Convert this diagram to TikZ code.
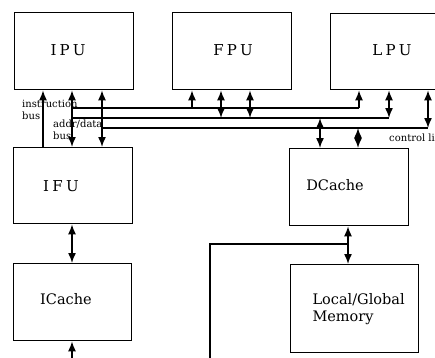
\documentclass[tikz,border=0pt]{standalone}
\usepackage{fontspec}
\setmainfont{DejaVu Serif}
\newfontfamily\spacedfont[LetterSpace=22]{DejaVu Serif}
\usetikzlibrary{arrows.meta}
\tikzset{
  unitbox/.style={draw, line width=1.3pt, inner sep=0pt, anchor=north west},
  unitname/.style={font=\spacedfont\fontsize{15}{17}\selectfont},
  boxname/.style={font=\fontsize{14.5}{17}\selectfont},
  buslabel/.style={font=\fontsize{10}{11.5}\selectfont, inner sep=0pt, anchor=north west, align=left},
  wire/.style={line width=1.5pt},
  tip/.style={wire, -{Latex[length=10pt,width=8pt]}},
  dbl/.style={wire, {Latex[length=10pt,width=8pt]}-{Latex[length=10pt,width=8pt]}},
}
\begin{document}
\begin{tikzpicture}[x=1pt,y=-1pt]
\useasboundingbox (0,0) rectangle (435,357);
\clip (0,0) rectangle (435,357);

% processing units
\node[unitbox, minimum width=119pt, minimum height=77pt] (ipu) at (14,12) {};
\node[unitbox, minimum width=119pt, minimum height=77pt] (fpu) at (172,12) {};
\node[unitbox, minimum width=119pt, minimum height=76pt] (lpu) at (330,13) {};
\node[unitname] (ipu-t) at (68,50.5) {IPU};
\node[unitname] (fpu-t) at (233,50.5) {FPU};
\node[unitname] (lpu-t) at (392,50.5) {LPU};

% fetch unit, caches and memory
\node[unitbox, minimum width=119pt, minimum height=76pt] (ifu) at (13,147) {};
\node[unitbox, minimum width=118pt, minimum height=77pt] (icache) at (13,263) {};
\node[unitbox, minimum width=119pt, minimum height=77pt] (dcache) at (289,148) {};
\node[unitbox, minimum width=128pt, minimum height=88pt] (mem) at (290,264) {};
\node[unitname] (ifu-t) at (61,186) {IFU};
\node[boxname] (icache-t) at (66,299) {ICache};
\node[boxname] (dcache-t) at (335,185) {DCache};
\node[boxname, align=left, anchor=west] (mem-t) at (309,309) {Local/Global\\Memory};

% bus end points
\coordinate (b1w) at (72,108);  \coordinate (b1e) at (359,108);
\coordinate (b2w) at (72,118);  \coordinate (b2e) at (389,118);
\coordinate (b3w) at (102,128); \coordinate (b3e) at (428,128);
\coordinate (ib) at (43,0);
\coordinate (f1) at (192,108);
\coordinate (f2) at (221,118);
\coordinate (f3) at (250,118);
\coordinate (d1) at (320,118);
\coordinate (d2) at (358,128);
\coordinate (dm) at (348,244);
\coordinate (lcorner) at (210,244);
\coordinate (lend) at (210,362);
\coordinate (ic) at (72,362);

% buses
\draw[wire] (b1w) -- (b1e);
\draw[wire] (b2w) -- (b2e);
\draw[wire] (b3w) -- (b3e);

% IPU <-> IFU
\draw[tip] (ifu.north -| ib) -- (ipu.south -| ib);
\draw[dbl] (ipu.south -| b1w) -- (ifu.north -| b1w);
\draw[dbl] (ipu.south -| b3w) -- (ifu.north -| b3w);

% FPU taps
\draw[tip] (f1) -- (fpu.south -| f1);
\draw[dbl] (fpu.south -| f2) -- (f2);
\draw[dbl] (fpu.south -| f3) -- (f3);

% LPU taps
\draw[tip] (b1e) -- (lpu.south -| b1e);
\draw[dbl] (lpu.south -| b2e) -- (b2e);
\draw[dbl] (lpu.south -| b3e) -- (b3e);

% DCache taps
\draw[dbl] (d1) -- (dcache.north -| d1);
\draw[dbl] (d2) -- (dcache.north -| d2);

% DCache <-> memory, and the line to the instruction side
\draw[dbl] (dcache.south -| dm) -- (mem.north -| dm);
\draw[wire] (dm) -- (lcorner) -- (lend);

% IFU <-> ICache, ICache input
\draw[dbl] (ifu.south -| ic) -- (icache.north -| ic);
\draw[tip] (ic) -- (icache.south -| ic);

% bus labels
\node[buslabel] (ilabel) at (22,100) {instruction\\bus};
\node[buslabel] (alabel) at (53,120) {addr/data\\bus};
\node[buslabel, anchor=west] (clabel) at (389,138) {control li};
\end{tikzpicture}
\end{document}
